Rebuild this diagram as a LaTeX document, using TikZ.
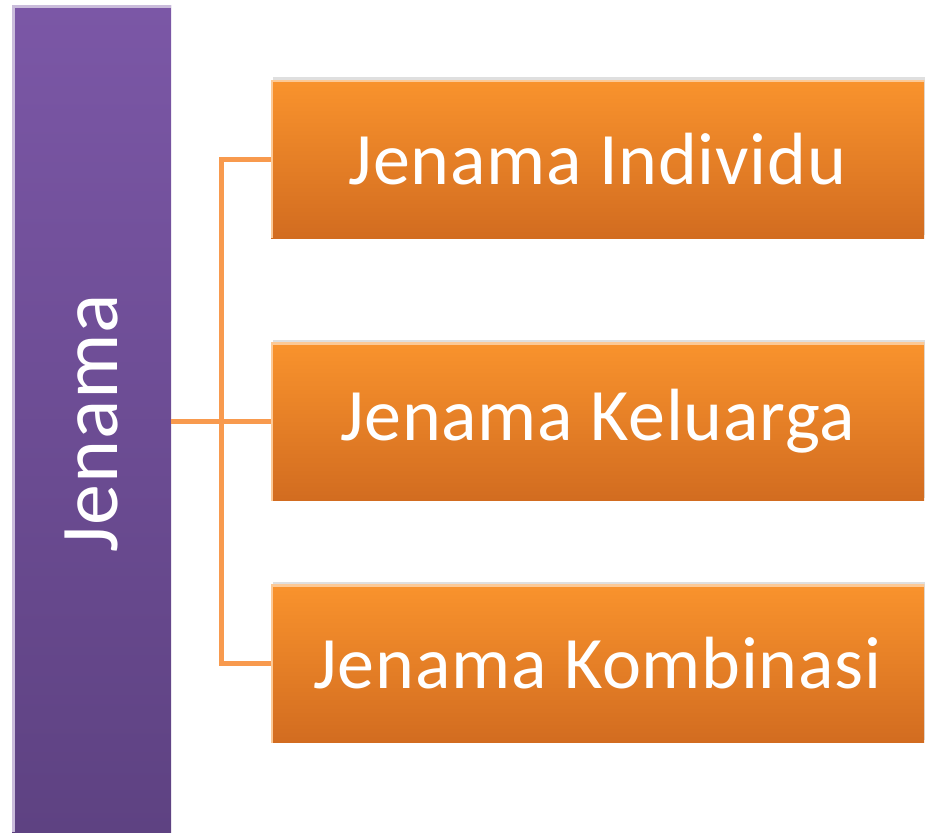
\documentclass[tikz,border=0pt]{standalone}
\usepackage{fontspec}
\setmainfont[LetterSpace=1]{Carlito}
\usepackage{tikz}
\usetikzlibrary{positioning,shadows}
\usepackage{xcolor}
\definecolor{mypurpletop}{RGB}{123,87,166}
\definecolor{mypurplebot}{RGB}{94,66,130}
\definecolor{myorangetop}{RGB}{249,147,45}
\definecolor{myorangebot}{RGB}{210,108,32}
\definecolor{myline}{RGB}{248,154,78}
\tikzstyle{node}=[rectangle,inner sep=0,outer sep=0,text=white]
\tikzstyle{node main}=[node,minimum width=159,minimum height=827,
  top color=mypurpletop,bottom color=mypurplebot,
  path picture={\draw[mypurpletop!40!white,line width=6] (path picture bounding box.south west) -- (path picture bounding box.north west) -- (path picture bounding box.north east);}]
\tikzstyle{node sub}=[node,minimum width=653,minimum height=158,
  top color=myorangetop,bottom color=myorangebot,
  drop shadow={opacity=0.25,shadow xshift=2,shadow yshift=-3},
  path picture={\draw[myorangetop!50!white,line width=4] (path picture bounding box.south west) -- (path picture bounding box.north west) -- (path picture bounding box.north east);},
  font=\fontsize{74}{78}\selectfont]
\tikzstyle{connect}=[line width=5,myline]

\begin{document}
\begin{tikzpicture}[x=1pt,y=-1pt]
    \useasboundingbox (0,0) rectangle (925,835);

    % MAIN NODE
    \node[node main] (NM) at (91.5,418.5) {};
    \node[text=white,rotate=90,font=\fontsize{82}{86}\selectfont] (NM-text) at (91.5,423) {Jenama};

    % SUB NODES
    \foreach \i/\txt/\y in {1/Individu/159,2/Keluarga/421.5,3/Kombinasi/663.5}{
        \node[node sub,anchor=west] (NS-\i) at (271,\y) {Jenama \txt};
    }

    % DRAW EDGES
    \coordinate (junc) at (221,421);
    \draw[connect] (NS-1.west) -- (NS-1.west -| junc) -- (NS-3.west -| junc) -- (NS-3.west);
    \draw[connect] (NM.east |- NS-2.west) -- (NS-2.west);
\end{tikzpicture}
\end{document}
